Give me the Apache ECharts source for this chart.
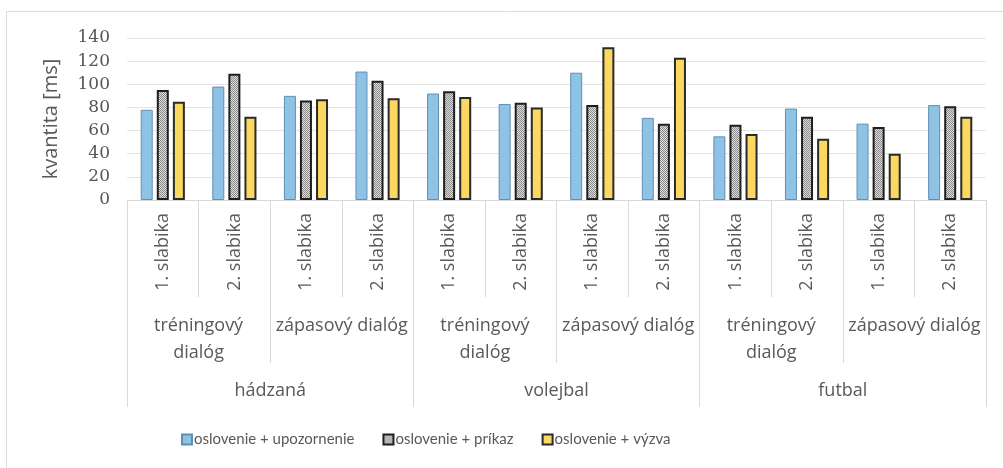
<!DOCTYPE html>
<html>
<head>
<meta charset="utf-8">
<script src="https://cdn.jsdelivr.net/npm/echarts@6/dist/echarts.min.js"></script>
<style>
  html, body { margin: 0; padding: 0; background: #fff; }
  #chart { width: 1003px; height: 468px; }
</style>
</head>
<body>
<div id="chart"></div>
<script>
// Three-level category axis: syllable / dialogue type / sport
const syllables = ['1. slabika', '2. slabika', '1. slabika', '2. slabika', '1. slabika', '2. slabika',
                   '1. slabika', '2. slabika', '1. slabika', '2. slabika', '1. slabika', '2. slabika'];
const dialogs = ['tréningový\ndialóg', 'zápasový dialóg', 'tréningový\ndialóg', 'zápasový dialóg',
                 'tréningový\ndialóg', 'zápasový dialóg'];
const sports = ['hádzaná', 'volejbal', 'futbal'];

const seriesNames = ['oslovenie + upozornenie', 'oslovenie + príkaz', 'oslovenie + výzva'];
const upozornenie = [78, 98, 90, 111, 92, 83, 110, 71, 55, 79, 66, 82];
const prikaz      = [95, 109, 86, 103, 94, 84, 82, 66, 65, 72, 63, 81];
const vyzva       = [85, 72, 87, 88, 89, 80, 132, 123, 57, 53, 40, 72];

const yTicks = { min: 0, max: 140, interval: 20 };

// fine checkered fill for the middle series
function checkerPattern(dark, light) {
  const c = document.createElement('canvas');
  c.width = 2; c.height = 2;
  const g = c.getContext('2d');
  g.fillStyle = light; g.fillRect(0, 0, 2, 2);
  g.fillStyle = dark; g.fillRect(0, 0, 1, 1); g.fillRect(1, 1, 1, 1);
  return c;
}

const chart = echarts.init(document.getElementById('chart'), null, { renderer: 'canvas' });

const txt = '#595959';
const lineCol = '#d9d9d9';
const fontAxis = 'Open Sans';
const fontLegend = 'Lato';
const gridRect = { left: 127, right: 17, top: 38, bottom: 268 };

const option = {
  animation: false,
  backgroundColor: '#fff',
  graphic: [{
    type: 'rect', z: -10, silent: true,
    shape: { x: 6.5, y: 11.5, width: 1100, height: 600 },
    style: { fill: 'none', stroke: '#dcdcdc', lineWidth: 1 }
  }],
  grid: [
    Object.assign({}, gridRect),
    Object.assign({}, gridRect),
    Object.assign({}, gridRect)
  ],
  legend: {
    left: 176, top: 427,
    itemWidth: 10, itemHeight: 10, itemGap: 28,
    icon: 'rect',
    textStyle: { fontFamily: fontLegend, fontSize: 15, color: txt, padding: [0, 0, 0, -3] },
    data: seriesNames
  },
  xAxis: [
    {
      type: 'category', gridIndex: 0, data: syllables,
      axisLine: { show: true, lineStyle: { color: lineCol } },
      axisTick: { show: true, interval: 0, length: 97, lineStyle: { color: lineCol } },
      axisLabel: { interval: 0, rotate: 90, margin: 13, color: txt, fontFamily: fontAxis, fontSize: 18 }
    },
    {
      type: 'category', gridIndex: 1, data: dialogs,
      axisLine: { show: false },
      axisTick: { show: true, interval: 0, length: 163, lineStyle: { color: lineCol } },
      axisLabel: { interval: 0, margin: 112, color: txt, fontFamily: fontAxis, fontSize: 18, lineHeight: 27 }
    },
    {
      type: 'category', gridIndex: 2, data: sports,
      axisLine: { show: false },
      axisTick: { show: true, interval: 0, length: 207, lineStyle: { color: lineCol } },
      axisLabel: { interval: 0, margin: 182, color: txt, fontFamily: fontAxis, fontSize: 18 }
    }
  ],
  yAxis: [
    {
      type: 'value', gridIndex: 0,
      min: yTicks.min, max: yTicks.max, interval: yTicks.interval,
      name: 'kvantita [ms]', nameLocation: 'middle', nameGap: 66,
      nameTextStyle: { fontFamily: fontAxis, fontSize: 20, color: txt },
      axisLine: { show: false }, axisTick: { show: false },
      axisLabel: { margin: 17, color: '#555', fontFamily: 'DejaVu Serif', fontSize: 17 },
      splitLine: { lineStyle: { color: '#e4e4e4' } }
    },
    { type: 'value', gridIndex: 1, show: false, min: 0, max: 140 },
    { type: 'value', gridIndex: 2, show: false, min: 0, max: 140 }
  ],
  series: [
    {
      name: seriesNames[0], type: 'bar', data: upozornenie,
      barWidth: 12, barGap: '34%',
      itemStyle: { color: '#8fc3e6', borderColor: '#5f8fb3', borderWidth: 1 }
    },
    {
      name: seriesNames[1], type: 'bar', data: prikaz,
      barWidth: 12, barGap: '34%',
      itemStyle: {
        color: { image: checkerPattern('#8a8a8a', '#dedede'), repeat: 'repeat' },
        borderColor: '#1e1e1e', borderWidth: 2
      }
    },
    {
      name: seriesNames[2], type: 'bar', data: vyzva,
      barWidth: 12, barGap: '34%',
      itemStyle: { color: '#fbd862', borderColor: '#2a2a2a', borderWidth: 2 }
    }
  ]
};

chart.setOption(option);
</script>
</body>
</html>
